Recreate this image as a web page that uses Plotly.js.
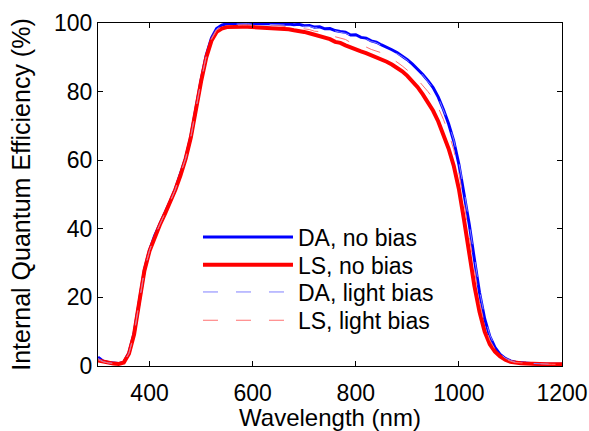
<!DOCTYPE html>
<html>
<head>
<meta charset="utf-8">
<script src="https://cdn.plot.ly/plotly-3.0.1.min.js"></script>
<style>html,body{margin:0;padding:0;background:#fff;}#chart{width:589px;height:431px;}</style>
</head>
<body>
<div id="chart"></div>
<script>
// Wavelength grid (nm), 300..1200 step 10
const wavelength = [];
for (let w = 300; w <= 1200; w += 10) wavelength.push(w);

const daNoBias = [
 2.6,1.4,1.0,0.8,0.7,1.1,3.8,9.5,19.0,28.0,
 33.8,38.0,41.4,44.6,48.0,51.6,55.8,60.6,66.8,75.2,
 83.4,90.6,95.6,98.4,99.4,99.8,99.9,100.0,99.9,99.9,
 99.8,99.9,99.8,99.8,99.7,99.8,99.6,99.7,99.5,99.6,
 99.2,99.3,98.8,98.9,98.3,98.4,97.8,97.5,97.3,96.5,
 96.6,95.8,95.6,94.8,94.4,93.6,93.0,92.2,91.4,90.4,
 89.3,88.0,86.6,85.0,83.2,81.2,78.4,74.8,70.6,65.6,
 58.8,50.6,41.4,31.2,21.4,13.8,8.6,5.4,3.4,2.2,
 1.5,1.1,0.9,0.8,0.7,0.6,0.6,0.6,0.5,0.5,
 0.5
];
const lsNoBias = [
 1.6,1.2,0.9,0.7,0.6,1.0,3.6,9.2,18.6,27.8,
 33.6,37.8,41.2,44.4,47.8,51.4,55.6,60.4,66.6,75.0,
 83.0,90.0,94.8,97.4,98.4,98.8,98.9,99.0,98.9,98.9,
 98.8,98.9,98.7,98.7,98.5,98.5,98.3,98.2,97.9,97.7,
 97.4,97.0,96.6,96.3,95.6,95.3,94.5,94.2,93.5,92.8,
 92.4,91.7,91.2,90.6,90.1,89.4,88.7,87.9,87.0,85.9,
 84.6,83.1,81.3,79.2,76.9,74.4,71.3,67.6,63.4,58.4,
 51.6,42.6,33.0,23.4,15.8,10.0,6.3,4.2,2.8,1.8,
 1.2,0.9,0.8,0.7,0.6,0.6,0.5,0.5,0.5,0.5,
 0.5
];
const daLightBias = [
 2.2,1.3,0.9,0.8,0.7,1.1,3.7,9.4,18.9,27.9,
 33.7,37.9,41.3,44.5,47.9,51.5,55.7,60.5,66.7,75.1,
 83.2,90.4,95.4,98.2,99.2,99.6,99.7,99.8,99.7,99.8,
 99.6,99.7,99.6,99.6,99.5,99.6,99.4,99.4,99.3,99.3,
 99.0,99.0,98.6,98.6,98.1,98.1,97.6,97.3,97.0,96.4,
 96.3,95.6,95.3,94.6,94.2,93.4,92.8,92.0,91.2,90.2,
 89.1,87.8,86.4,84.8,83.0,81.0,78.3,74.8,70.8,65.9,
 59.3,51.2,42.0,31.8,22.0,14.3,9.0,5.7,3.6,2.3,
 1.6,1.1,0.9,0.8,0.7,0.6,0.6,0.6,0.5,0.5,
 0.5
];
const lsLightBias = [
 1.8,1.2,0.9,0.7,0.6,1.0,3.7,9.3,18.8,27.9,
 33.7,37.9,41.3,44.5,47.9,51.5,55.7,60.5,66.7,75.1,
 83.2,90.3,95.2,97.9,98.9,99.3,99.4,99.5,99.4,99.4,
 99.3,99.4,99.2,99.3,99.1,99.2,99.0,98.9,98.8,98.6,
 98.4,98.1,97.6,97.5,96.9,96.8,96.0,95.6,95.2,94.3,
 94.1,93.4,93.0,92.3,91.9,91.3,90.5,89.6,88.6,87.5,
 86.3,85.0,83.5,81.8,80.0,78.0,75.3,71.9,68.0,63.1,
 56.3,47.6,38.3,28.0,18.8,12.0,7.6,4.9,3.2,2.1,
 1.4,1.0,0.9,0.8,0.7,0.6,0.6,0.5,0.5,0.5,
 0.5
];

const seriesNames = ['DA, no bias', 'LS, no bias', 'DA, light bias', 'LS, light bias'];
const xTicks = [400, 600, 800, 1000, 1200];
const yTicks = [0, 20, 40, 60, 80, 100];

const FONT = 'Liberation Sans, Arial, sans-serif';

const traces = [
  {x: wavelength, y: daNoBias, name: seriesNames[0], mode: 'lines', legend: 'legend',
   line: {color: '#0000ff', width: 3}},
  {x: wavelength, y: lsNoBias, name: seriesNames[1], mode: 'lines', legend: 'legend2',
   line: {color: '#ff0000', width: 4}},
  {x: wavelength, y: daLightBias, name: seriesNames[2], mode: 'lines', legend: 'legend3',
   line: {color: '#8080ff', width: 1, dash: '15px,18px'}},
  {x: wavelength, y: lsLightBias, name: seriesNames[3], mode: 'lines', legend: 'legend4',
   line: {color: '#ff7070', width: 1, dash: '15px,18px'}}
];

function leg(y) {
  return {x: 0.2155, y: y, xanchor: 'left', yanchor: 'middle',
          bgcolor: 'rgba(0,0,0,0)', borderwidth: 0, itemwidth: 90,
          font: {family: FONT, size: 23, color: '#000'}};
}

const layout = {
  width: 589, height: 431,
  margin: {l: 98, r: 27, t: 23, b: 65},
  paper_bgcolor: '#fff', plot_bgcolor: '#fff',
  font: {family: FONT, size: 23, color: '#000'},
  showlegend: true,
  legend: leg(0.376),
  legend2: leg(0.2953),
  legend3: leg(0.2157),
  legend4: leg(0.1332),
  xaxis: {range: [300, 1200], tickvals: xTicks, ticktext: xTicks.map(String),
          ticks: 'inside', ticklen: 5, tickwidth: 1, tickcolor: '#000',
          showline: true, linecolor: '#000', linewidth: 1, mirror: 'ticks',
          showgrid: false, zeroline: false, ticklabelstandoff: 6,
          tickfont: {family: FONT, size: 23, color: '#000'},
          title: {text: 'Wavelength (nm)', font: {family: FONT, size: 24, color: '#000'}, standoff: 5}},
  yaxis: {range: [0, 100], tickvals: yTicks, ticktext: yTicks.map(String),
          ticks: 'inside', ticklen: 5, tickwidth: 1, tickcolor: '#000',
          showline: true, linecolor: '#000', linewidth: 1, mirror: 'ticks',
          showgrid: false, zeroline: false,
          tickfont: {family: FONT, size: 23, color: '#000'},
          title: {text: 'Internal Quantum Efficiency (%)', font: {family: FONT, size: 25, color: '#000'}, standoff: 16}}
};

Plotly.newPlot('chart', traces, layout, {staticPlot: true, displayModeBar: false});
</script>
</body>
</html>
